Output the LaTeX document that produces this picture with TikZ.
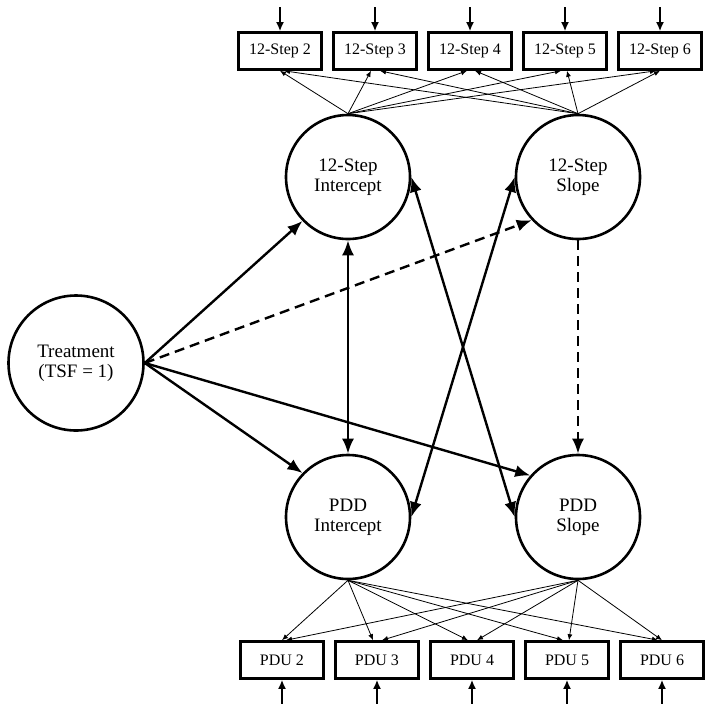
\documentclass[tikz,border=0pt]{standalone}
\usepackage{fontspec}
\setmainfont{Liberation Serif}
\usetikzlibrary{arrows.meta}
\tikzstyle{factor} = [draw, circle, line width=2.6pt, minimum size=124pt,
  inner sep=0pt, align=center, font=\fontsize{19}{20}\selectfont]
\tikzstyle{measure} = [draw, rectangle, line width=2.6pt, minimum width=83pt,
  minimum height=37pt, font=\fontsize{16}{17}\selectfont]
\tikzstyle{effect} = [draw, line width=2.4pt, -{Latex[length=15pt,width=12pt]}]
\tikzstyle{effectdash} = [effect, dash pattern=on 10pt off 6pt]
\tikzstyle{covar} = [draw, line width=2.4pt,
  {Latex[length=15pt,width=12pt]}-{Latex[length=15pt,width=12pt]}]
\tikzstyle{loading} = [draw, line width=0.8pt, -{Latex[length=6pt,width=5pt]}]
\tikzstyle{resid} = [draw, line width=2.6pt, -{Latex[length=9pt,width=8pt]}]
\newcommand{\latent}[3]{node (#1) [factor] {#2\\#3}}
\newcommand{\indicator}[2]{node (#1) [measure] {#2}}

\begin{document}
\begin{tikzpicture}[x=1pt,y=-1pt]
  \useasboundingbox (0,0) rectangle (715,713);

  % Draw diagram elements
  % growth factors and treatment
  \path (76,363) node (TREAT) [factor, minimum size=135pt] {Treatment\\(TSF = 1)};
  \path (348,177) \latent {STEPINT}{12-Step}{Intercept};
  \path (STEPINT)+(230,0) \latent {STEPSLOPE}{12-Step}{Slope};
  \path (STEPINT)+(0,340) \latent {PDDINT}{PDD}{Intercept};
  \path (PDDINT)+(230,0) \latent {PDDSLOPE}{PDD}{Slope};

  % 12-step indicators
  \path (280,51) \indicator {STEP2}{12-Step 2};
  \path (STEP2)+(95,0) \indicator {STEP3}{12-Step 3};
  \path (STEP3)+(95,0) \indicator {STEP4}{12-Step 4};
  \path (STEP4)+(95,0) \indicator {STEP5}{12-Step 5};
  \path (STEP5)+(95,0) \indicator {STEP6}{12-Step 6};

  % PDU indicators
  \path (282,660) \indicator {PDU2}{PDU 2};
  \path (PDU2)+(95,0) \indicator {PDU3}{PDU 3};
  \path (PDU3)+(95,0) \indicator {PDU4}{PDU 4};
  \path (PDU4)+(95,0) \indicator {PDU5}{PDU 5};
  \path (PDU5)+(95,0) \indicator {PDU6}{PDU 6};

  % Draw arrows between elements

  % residuals
  \path [resid] (STEP2.north)+(0,-24) coordinate (eSTEP2) -- (STEP2.north);
  \path [resid] (STEP3.north)+(0,-24) coordinate (eSTEP3) -- (STEP3.north);
  \path [resid] (STEP4.north)+(0,-24) coordinate (eSTEP4) -- (STEP4.north);
  \path [resid] (STEP5.north)+(0,-24) coordinate (eSTEP5) -- (STEP5.north);
  \path [resid] (STEP6.north)+(0,-24) coordinate (eSTEP6) -- (STEP6.north);
  \path [resid] (PDU2.south)+(0,24) coordinate (ePDU2) -- (PDU2.south);
  \path [resid] (PDU3.south)+(0,24) coordinate (ePDU3) -- (PDU3.south);
  \path [resid] (PDU4.south)+(0,24) coordinate (ePDU4) -- (PDU4.south);
  \path [resid] (PDU5.south)+(0,24) coordinate (ePDU5) -- (PDU5.south);
  \path [resid] (PDU6.south)+(0,24) coordinate (ePDU6) -- (PDU6.south);

  % 12-step loadings
  \path [loading] (STEPINT.north) -- (STEP2.south);
  \path [loading] (STEPINT.north) -- ([xshift=-4pt]STEP3.south);
  \path [loading] (STEPINT.north) -- ([xshift=-3pt]STEP4.south);
  \path [loading] (STEPINT.north) -- ([xshift=-4pt]STEP5.south);
  \path [loading] (STEPINT.north) -- ([xshift=-4pt]STEP6.south);
  \path [loading] (STEPSLOPE.north) -- ([xshift=4pt]STEP2.south);
  \path [loading] (STEPSLOPE.north) -- ([xshift=5pt]STEP3.south);
  \path [loading] (STEPSLOPE.north) -- ([xshift=5pt]STEP4.south);
  \path [loading] (STEPSLOPE.north) -- ([xshift=2pt]STEP5.south);
  \path [loading] (STEPSLOPE.north) -- (STEP6.south);

  % PDU loadings
  \path [loading] (PDDINT.south) -- (PDU2.north);
  \path [loading] (PDDINT.south) -- ([xshift=-4pt]PDU3.north);
  \path [loading] (PDDINT.south) -- ([xshift=-4pt]PDU4.north);
  \path [loading] (PDDINT.south) -- ([xshift=-4pt]PDU5.north);
  \path [loading] (PDDINT.south) -- ([xshift=-4pt]PDU6.north);
  \path [loading] (PDDSLOPE.south) -- ([xshift=4pt]PDU2.north);
  \path [loading] (PDDSLOPE.south) -- ([xshift=5pt]PDU3.north);
  \path [loading] (PDDSLOPE.south) -- ([xshift=5pt]PDU4.north);
  \path [loading] (PDDSLOPE.south) -- ([xshift=2pt]PDU5.north);
  \path [loading] (PDDSLOPE.south) -- (PDU6.north);

  % treatment effects
  \path [effect] (TREAT.east) -- (STEPINT.224);
  \path [effectdash] (TREAT.east) -- (STEPSLOPE.223);
  \path [effect] (TREAT.east) -- (PDDINT.136);
  \path [effect] (TREAT.east) -- (PDDSLOPE.139);

  % factor relations
  \path [covar] (STEPINT) -- (PDDINT);
  \path [covar] (STEPINT.east) -- (PDDSLOPE.west);
  \path [covar] (STEPSLOPE.west) -- (PDDINT.east);
  \path [effectdash] (STEPSLOPE) -- (PDDSLOPE);

\end{tikzpicture}
\end{document}
